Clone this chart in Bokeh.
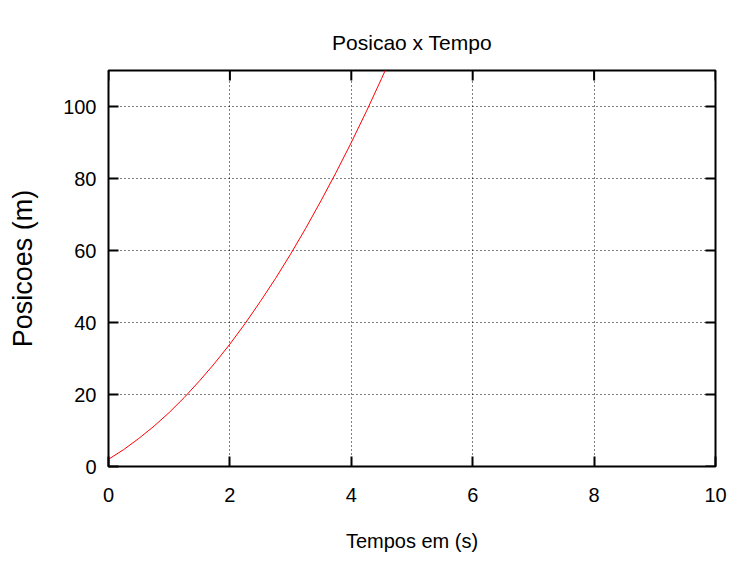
import math
from bokeh.plotting import figure
from bokeh.models import FixedTicker, Range1d
from bokeh.embed import file_html
from bokeh.resources import INLINE

# Data
tempo = [0, 0.25, 0.5, 0.75, 1.0, 1.25, 1.5, 1.75, 2.0, 2.25, 2.5, 2.75,
         3.0, 3.25, 3.5, 3.75, 4.0, 4.25, 4.5, 4.75]
posicao = [2.0, 4.7, 7.8, 11.2, 15.0, 19.2, 23.8, 28.7, 34.0, 39.7, 45.8, 52.2,
           59.0, 66.2, 73.8, 81.7, 90.0, 98.7, 107.8, 117.2]
x_ticks = [0, 2, 4, 6, 8, 10]
y_ticks = [0, 20, 40, 60, 80, 100]
x_min, x_max = 0, 10
y_min, y_max = 0, 110
titulo = "Posicao x Tempo"

FONT = "Liberation Sans"

p = figure(width=727, height=554, output_backend="svg", toolbar_location=None,
           x_range=Range1d(x_min, x_max), y_range=Range1d(y_min, y_max),
           min_border_left=108, min_border_right=12, min_border_top=70,
           min_border_bottom=88, title=titulo)

p.title.align = "center"
p.title.vertical_align = "top"
p.title.text_font = FONT
p.title.text_font_size = "21px"
p.title.text_font_style = "normal"
p.title.text_color = "black"
p.title.standoff = 30

p.outline_line_color = "black"
p.outline_line_width = 2
p.background_fill_color = "white"
p.border_fill_color = "white"

for g, t in ((p.xgrid[0], x_ticks), (p.ygrid[0], y_ticks)):
    g.ticker = FixedTicker(ticks=t)
    g.grid_line_color = "black"
    g.grid_line_dash = "1 3"
    g.grid_line_width = 1

p.line(tempo, posicao, line_color="red", line_width=1)

# mirrored tick marks on the top and right borders (clipped to the frame)
p.scatter(x=x_ticks, y=[y_max] * len(x_ticks), marker="dash", size=20,
          angle=math.pi / 2, line_color="black", line_width=2)
p.scatter(x=[x_max] * len(y_ticks), y=y_ticks, marker="dash", size=20,
          line_color="black", line_width=2)

xax = p.below[0]
yax = p.left[0]
for ax in (xax, yax):
    ax.major_label_text_font = FONT
    ax.major_label_text_font_size = "20px"
    ax.major_label_text_color = "black"
    ax.major_tick_in = 10
    ax.major_tick_out = 0
    ax.major_tick_line_width = 2
    ax.major_tick_line_color = "black"
    ax.minor_tick_line_color = None
    ax.axis_line_color = None
    ax.axis_label_text_font_style = "normal"
    ax.axis_label_text_color = "black"

xax.ticker = FixedTicker(ticks=x_ticks)
yax.ticker = FixedTicker(ticks=y_ticks)
xax.axis_label = "Tempos em (s)"
xax.axis_label_text_font = FONT
xax.axis_label_text_font_size = "20px"
xax.major_label_standoff = 21
xax.axis_label_standoff = 25
yax.axis_label = "Posicoes (m)"
yax.axis_label_text_font = FONT
yax.axis_label_text_font_size = "27px"
yax.major_label_standoff = 12
yax.axis_label_standoff = 22

open("out.html", "w").write(file_html(p, INLINE))
